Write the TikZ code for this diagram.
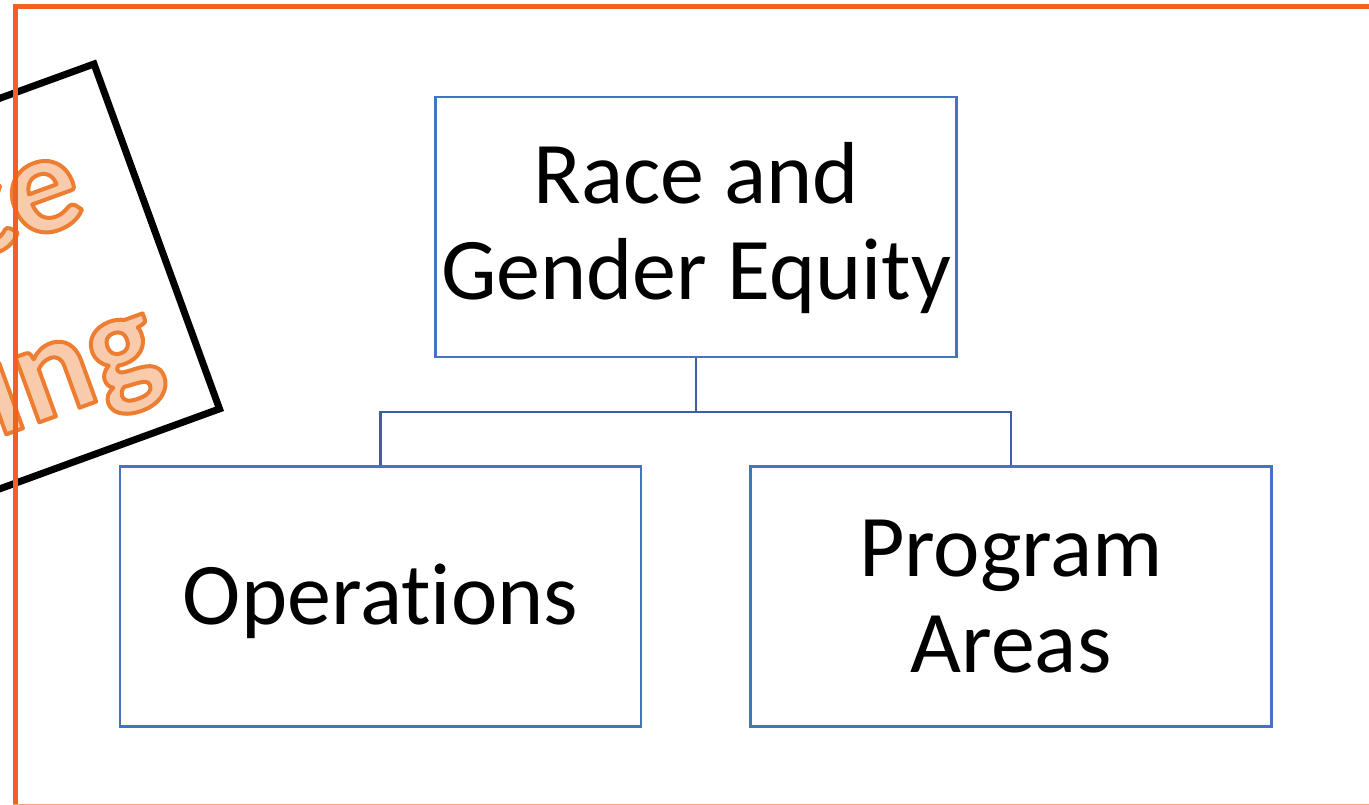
\documentclass[tikz,border=0pt]{standalone}
\usepackage{fontspec}
\setmainfont{Carlito}[Ligatures = NoCommon]
\usetikzlibrary{positioning}
\definecolor{frameorange}{HTML}{F26122}
\definecolor{boxblue}{HTML}{4472C4}
\definecolor{linkblue}{HTML}{3B5EA6}
\definecolor{stampline}{HTML}{ED7D31}
\definecolor{stampfill}{HTML}{F8CBAD}
\newcommand{\outlined}[1]{\special{pdf:literal direct 0.929 0.490 0.192 RG 4 w 1 j 2 Tr}#1\special{pdf:literal direct 0 Tr}}
\tikzset{unit/.style = {draw = boxblue, line width = 2.3pt, inner sep = 0pt, align = center,
		minimum width = 521pt, minimum height = 260pt, font = \fontsize{88}{96}\selectfont},
	link/.style = {draw = linkblue, line width = 2.3pt},
	stampword/.style = {inner sep = 0pt, text = stampfill, font = \fontsize{143}{175}\selectfont\bfseries}}

\begin{document}
\begin{tikzpicture}[x = 1pt, y = 1pt]

					\useasboundingbox (0,0) rectangle (1369,804);

					\begin{scope}[shift = {(94,740)}, rotate = 20, transform shape]
						\draw[black, line width = 7pt, line join = miter] (-640,0) rectangle (0,-367);
						\node[stampword, anchor = base east] (stampa) at (-56,-143) {\outlined{Practice}};
						\node[stampword, anchor = base east] (stampb) at (-38,-318) {\outlined{Learning}};
					\end{scope}

					\draw[frameorange, line width = 5pt] (15.5,797) -- (1375,797);
					\draw[frameorange, line width = 5pt] (15.5,799.5) -- (15.5,-2.3);
					\draw[frameorange!60, line width = 5pt] (13,-2.3) -- (1375,-2.3);

					\node[unit, text depth = 13pt] (rge) at (696,577) {Race and\\Gender Equity};
					\node[unit, text height = 57pt, text depth = 0pt] (ops) at (380.5,207.5) {Operations};
					\node[unit] (prog) at (1011,207.5) {Program\\Areas};

					\draw[link] (rge.south) -- ++(0,-54) -| (ops.north);
					\draw[link] (rge.south) -- ++(0,-54) -| (prog.north);

\end{tikzpicture}
\end{document}
